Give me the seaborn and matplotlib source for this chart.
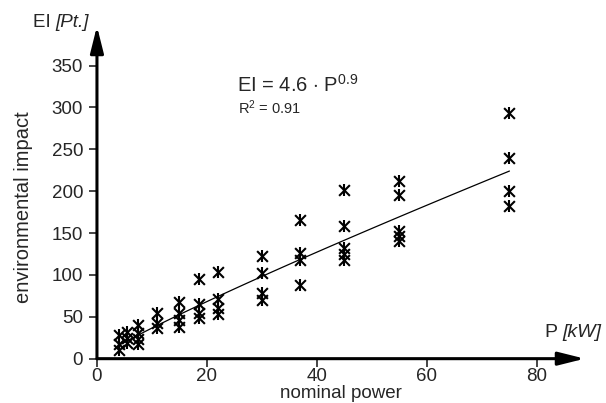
import numpy as np
import pandas as pd
import matplotlib
matplotlib.use("Agg")
import matplotlib.pyplot as plt
import seaborn as sns

# nominal power [kW] and environmental impact [Pt.]
power = [4, 4, 4,
         5.5, 5.5, 5.5,
         7.5, 7.5, 7.5, 7.5,
         11, 11, 11,
         15, 15, 15, 15,
         18.5, 18.5, 18.5, 18.5,
         22, 22, 22, 22,
         30, 30, 30, 30,
         37, 37, 37, 37,
         45, 45, 45, 45, 45,
         55, 55, 55, 55, 55,
         75, 75, 75, 75]
impact = [28, 17, 10,
          32, 25, 19,
          40, 31, 24, 18,
          55, 43, 37,
          68, 54, 46, 38,
          95, 65, 55, 48,
          104, 71, 60, 53,
          122, 102, 79, 70,
          165, 126, 118, 88,
          201, 158, 132, 125, 118,
          212, 196, 153, 147, 141,
          293, 240, 200, 182]

fit_a = 4.6
fit_b = 0.9
x_ticks = [0, 20, 40, 60, 80]
y_ticks = [0, 50, 100, 150, 200, 250, 300, 350]

df = pd.DataFrame({"P": power, "EI": impact})
fit_x = np.linspace(min(power), max(power), 100)
fit_df = pd.DataFrame({"P": fit_x, "EI": fit_a * fit_x ** fit_b})

sns.set_style("white")
plt.rcParams["font.family"] = ["Liberation Sans", "DejaVu Sans"]
plt.rcParams["mathtext.fontset"] = "custom"
plt.rcParams["mathtext.rm"] = "Liberation Sans"
plt.rcParams["mathtext.it"] = "Liberation Sans:italic"

fig = plt.figure(figsize=(6.06, 4.03), dpi=100)
ax = fig.add_axes([0.160, 0.11, 0.805, 0.825])

sns.lineplot(data=fit_df, x="P", y="EI", color="black", lw=0.9, ax=ax)
sns.scatterplot(data=df, x="P", y="EI", marker="x", s=60, color="black",
                linewidth=1.5, ax=ax)
sns.scatterplot(data=df, x="P", y="EI", marker="|", s=80, color="black",
                linewidth=1.5, ax=ax)

ax.set_xlim(0, 88.7)
ax.set_ylim(0, 397)
ax.set_xticks(x_ticks)
ax.set_yticks(y_ticks)
ax.tick_params(labelsize=13.5, length=6, width=1.2, direction="out",
               left=True, bottom=True)
ax.tick_params(axis="y", pad=4)
ax.tick_params(axis="x", pad=0.5)

for s in ax.spines.values():
    s.set_visible(False)

# axes drawn as arrows
arrow = dict(arrowstyle="-|>,head_length=0.8,head_width=0.2", color="black",
             lw=2.2, mutation_scale=20, shrinkA=0, shrinkB=0)
ax.annotate("", xy=(1, 0), xytext=(0, 0), xycoords="axes fraction",
            arrowprops=arrow, annotation_clip=False)
ax.annotate("", xy=(0, 1), xytext=(0, 0), xycoords="axes fraction",
            arrowprops=arrow, annotation_clip=False)

ax.set_xlabel("nominal power", fontsize=13.5, labelpad=0)
ax.set_ylabel("environmental impact", fontsize=14.5)
ax.yaxis.set_label_coords(-0.131, 0.456)

# axis unit labels: upright symbol followed by italic unit
ei = fig.text(0.054, 0.933, "EI ", fontsize=13.5, va="baseline", ha="left")
fig.text(0, 0, "[Pt.]", fontsize=13.5, style="italic", va="bottom", ha="left")
fig.texts[-1].remove()
ax.annotate("[Pt.]", xy=(1, 0), xycoords=ei, fontsize=13.5, style="italic",
            va="bottom", ha="left", annotation_clip=False)
pw = fig.text(0.899, 0.165, "P ", fontsize=14, va="baseline", ha="left")
ax.annotate("[kW]", xy=(1, 0), xycoords=pw, fontsize=14, style="italic",
            va="bottom", ha="left", annotation_clip=False)

ax.text(0.287, 0.802, r"EI = 4.6 $\cdot$ P$^{0.9}$", transform=ax.transAxes,
        fontsize=14.5, va="baseline")
ax.text(0.289, 0.737, r"R$^{2}$ = 0.91", transform=ax.transAxes,
        fontsize=10.5, va="baseline")

plt.savefig("out.png", dpi=100)
